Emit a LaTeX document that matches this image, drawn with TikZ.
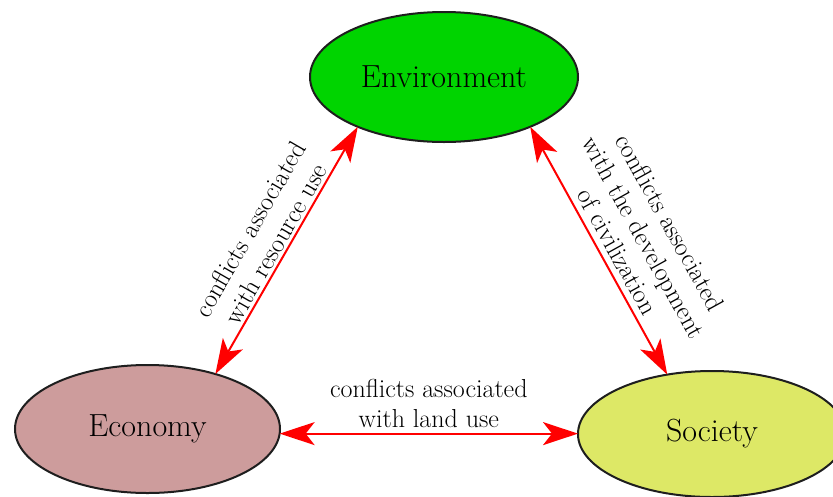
\documentclass[tikz,border=0pt]{standalone}
\usetikzlibrary{shapes.geometric,arrows.meta}
\definecolor{envgreen}{RGB}{0,212,0}
\definecolor{ecopink}{RGB}{205,156,156}
\definecolor{socyellow}{RGB}{221,232,102}
\definecolor{outline}{RGB}{30,30,30}
\tikzset{
  sphere/.style={ellipse,draw=outline,line width=2pt,inner sep=0pt,outer sep=0pt,
    minimum width=266pt,minimum height=128pt,font=\fontsize{32}{38}\selectfont},
  conflict/.style={red,line width=2pt,
    {Stealth[length=35pt,width=23pt,inset=9pt]}-{Stealth[length=35pt,width=23pt,inset=9pt]}},
  lbl/.style={font=\fontsize{26}{30}\selectfont,align=center,inner sep=2pt,text=black}
}
\begin{document}
\begin{tikzpicture}[x=1pt,y=-1pt]
\useasboundingbox (0,0) rectangle (833,496);
\node[sphere,fill=envgreen,minimum width=268pt,minimum height=130pt] (env) at (444,77) {Environment};
\node[sphere,fill=ecopink,minimum width=265pt] (eco) at (147.5,429) {Economy};
\node[sphere,fill=socyellow,minimum width=268pt,minimum height=126pt] (soc) at (712,434) {Society};
\draw[conflict] (eco.39.4) -- node[lbl,midway,sloped,above=0.5pt] {conflicts associated\\with resource use} (env.210.7);
\draw[conflict] (env.-30.1) -- node[lbl,pos=0.535,sloped,above=4pt] {conflicts associated\\with the development\\of civilization} (soc.127.2);
\draw[conflict] (eco.-2.6) -- node[lbl,midway,above=3pt] {conflicts associated\\with land use} (soc.west |- eco.-2.6);
\end{tikzpicture}
\end{document}
